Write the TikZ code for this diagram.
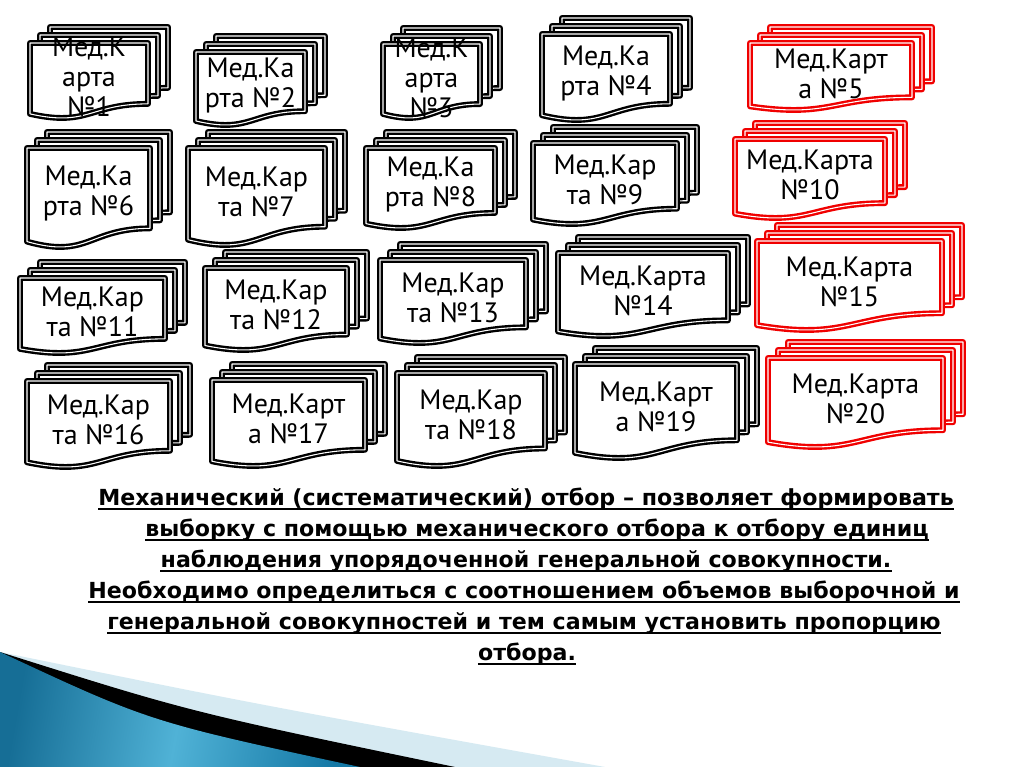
\documentclass[tikz,border=0pt]{standalone}
\usepackage{fontspec}
\setmainfont{PT Sans}
\newfontfamily\parafont{DejaVu Sans}
\definecolor{redc}{RGB}{240,0,0}
\definecolor{lightband}{RGB}{214,234,242}
\definecolor{bluedark}{RGB}{22,110,150}
\definecolor{bluemid}{RGB}{80,178,214}
\definecolor{blueend}{RGB}{20,120,165}
\newcommand\docpage[5]{%
  \pgfmathsetmacro\dBq{#2+0.802*#4}%
  \pgfmathsetmacro\dBl{#2+0.934*#4}%
  \pgfmathsetmacro\dBc{#2+1.108*#4}%
  \pgfmathsetmacro\dMx{(#1+#3)/2}%
  \path[cardline=#5] (#1,#2) -- (#3,#2) -- (#3,\dBq) .. controls (\dMx,\dBq) and (\dMx,\dBc) .. (#1,\dBl) -- cycle;
}
\newcommand\medcard[7]{%
  \pgfmathsetmacro\cL{#2}%
  \pgfmathsetmacro\cT{#3+16}%
  \pgfmathsetmacro\cR{#4-20}%
  \pgfmathsetmacro\cH{(#5-#3-16)/0.988}%
  \pgfmathsetmacro\bLa{\cL+20}\pgfmathsetmacro\bTa{\cT-16}\pgfmathsetmacro\bRa{\cR+20}%
  \docpage{\bLa}{\bTa}{\bRa}{\cH}{#6}%
  \pgfmathsetmacro\cL{#2}\pgfmathsetmacro\cT{#3+16}\pgfmathsetmacro\cR{#4-20}\pgfmathsetmacro\cH{(#5-#3-16)/0.988}%
  \pgfmathsetmacro\bLb{\cL+10}\pgfmathsetmacro\bTb{\cT-8}\pgfmathsetmacro\bRb{\cR+10}%
  \docpage{\bLb}{\bTb}{\bRb}{\cH}{#6}%
  \pgfmathsetmacro\cL{#2}\pgfmathsetmacro\cT{#3+16}\pgfmathsetmacro\cR{#4-20}\pgfmathsetmacro\cH{(#5-#3-16)/0.988}%
  \docpage{\cL}{\cT}{\cR}{\cH}{#6}%
  \pgfmathsetmacro\tX{(\cL+\cR)/2}\pgfmathsetmacro\tY{\cT+0.45*\cH}%
  \node[cardtext] (#1) at (\tX,\tY) {#7};
}
\begin{document}
\begin{tikzpicture}[x=0.75pt,y=-0.75pt,
  cardline/.style={fill=white, draw=#1, double=white, double distance=0.8pt, line width=1.8pt, line join=round},
  cardtext/.style={font=\fontsize{21}{22.5}\selectfont, align=center, inner sep=0pt},
  para/.style={font=\parafont\fontsize{16.6}{18}\selectfont\bfseries, inner sep=0pt, anchor=base},
  uline/.style={line width=1.4pt}]
\useasboundingbox[fill=white] (0,0) rectangle (1024,767);

% decorative swoosh
\fill[lightband] (0,652) .. controls (260,705) .. (605,767) -- (0,767) -- cycle;
\fill[black] (0,652) .. controls (190,712) .. (455,767) -- (0,767) -- cycle;
\shade[left color=bluedark, right color=blueend, middle color=bluemid, shading angle=80]
  (0,652) .. controls (150,722) .. (360,767) -- (0,767) -- cycle;

% cards
\medcard{c1}{30}{27}{168}{118}{black}{Мед.К\\арта\\№1}
\medcard{c2}{196}{36}{325}{125}{black}{Мед.Ка\\рта №2}
\medcard{c3}{383}{28}{500}{118}{black}{Мед.К\\арта\\№3}
\medcard{c4}{542}{18}{690}{120}{black}{Мед.Ка\\рта №4}
\medcard{c5}{750}{27}{932}{110}{redc}{Мед.Карт\\а №5}
\medcard{c6}{27}{132}{170}{247}{black}{Мед.Ка\\рта №6}
\medcard{c7}{188}{132}{345}{245}{black}{Мед.Кар\\та №7}
\medcard{c8}{366}{132}{515}{228}{black}{Мед.Ка\\рта №8}
\medcard{c9}{533}{127}{697}{224}{black}{Мед.Кар\\та №9}
\medcard{c10}{735}{123}{905}{218}{redc}{Мед.Карта\\№10}
\medcard{c11}{20}{262}{185}{353}{black}{Мед.Кар\\та №11}
\medcard{c12}{205}{252}{367}{350}{black}{Мед.Кар\\та №12}
\medcard{c13}{380}{244}{546}{343}{black}{Мед.Кар\\та №13}
\medcard{c14}{558}{237}{748}{336}{black}{Мед.Карта\\№14}
\medcard{c15}{757}{225}{962}{330}{redc}{Мед.Карта\\№15}
\medcard{c16}{27}{365}{190}{467}{black}{Мед.Кар\\та №16}
\medcard{c17}{212}{364}{385}{466}{black}{Мед.Карт\\а №17}
\medcard{c18}{397}{357}{565}{466}{black}{Мед.Кар\\та №18}
\medcard{c19}{575}{348}{757}{458}{black}{Мед.Карт\\а №19}
\medcard{c20}{768}{342}{963}{447}{redc}{Мед.Карта\\№20}

% paragraph
\node[para] (p1) at (526,505) {Механический (систематический) отбор – позволяет формировать};
\node[para] (p2) at (537,536) {выборку с помощью механического отбора к отбору единиц};
\node[para] (p3) at (526,567) {наблюдения упорядоченной генеральной совокупности.};
\node[para] (p4) at (524,598) {Необходимо определиться с соотношением объемов выборочной и};
\node[para] (p5) at (524,629) {генеральной совокупностей и тем самым установить пропорцию};
\node[para] (p6) at (527,660) {отбора.};
\foreach \p in {p1,p2,p3,p4,p5,p6}
  \draw[uline] ([yshift=-3pt]\p.base west) -- ([yshift=-3pt]\p.base east);
\end{tikzpicture}
\end{document}
